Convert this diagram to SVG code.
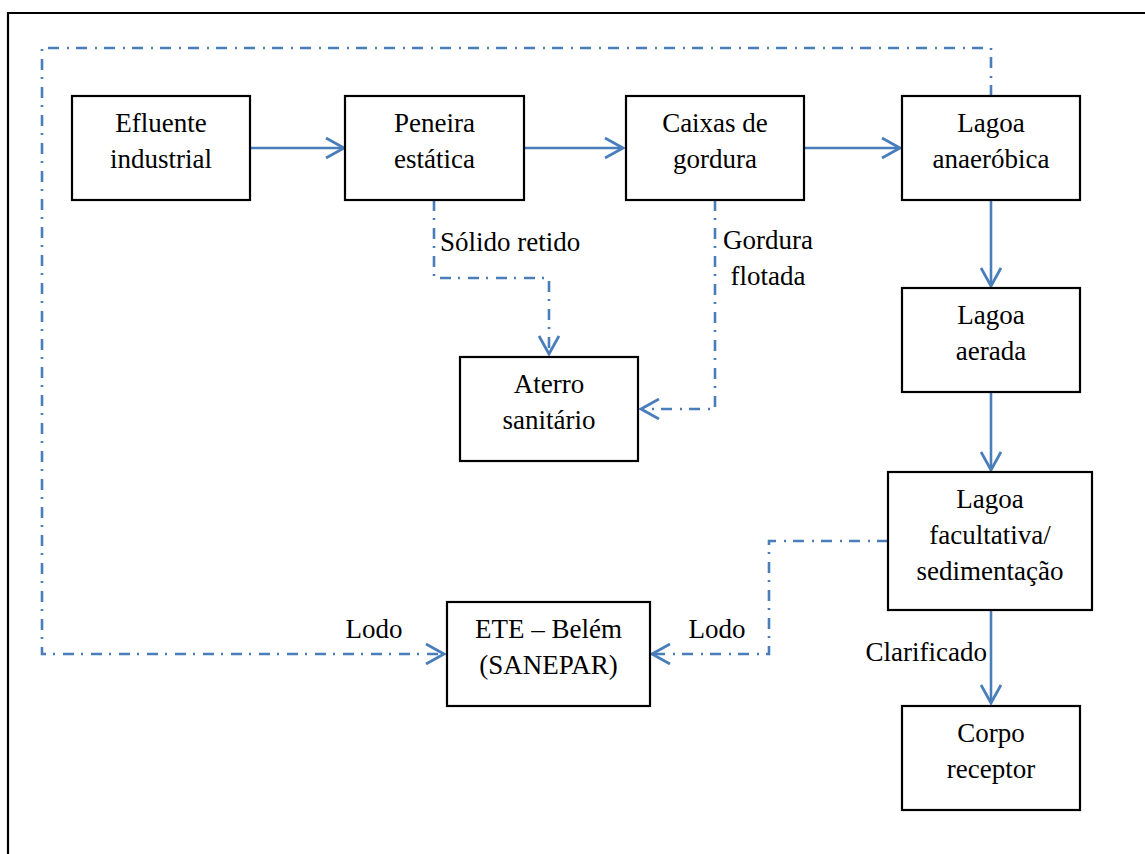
<svg xmlns="http://www.w3.org/2000/svg" width="1145" height="854" viewBox="0 0 1145 854">
<style>
.box{fill:#fff;stroke:#000;stroke-width:2.2}
.t{font-family:"Liberation Serif","Times New Roman",serif;font-size:27px;fill:#000;text-anchor:middle}
.ts{text-anchor:start}
.te{text-anchor:end}
.solid{fill:none;stroke:#4A7EBB;stroke-width:2.6}
.dash{fill:none;stroke:#4A7EBB;stroke-width:2.6;stroke-dasharray:11 7 2 8}
</style>
<defs>
<marker id="arr" viewBox="0 0 22 22" refX="20" refY="11" markerWidth="22" markerHeight="22" markerUnits="userSpaceOnUse" orient="auto">
<path d="M2,1 L20,11 L2,21" fill="none" stroke="#4A7EBB" stroke-width="2.8" stroke-dasharray="none"/>
</marker>
</defs>
<rect width="1145" height="854" fill="#fff"/>
<path d="M8,854 V13 H1145" fill="none" stroke="#000" stroke-width="2.2"/>
<g id="connectors">
<path class="solid" d="M250,148 H344" marker-end="url(#arr)"/>
<path class="solid" d="M524,148 H623" marker-end="url(#arr)"/>
<path class="solid" d="M804,148 H900" marker-end="url(#arr)"/>
<path class="solid" d="M991,200 V286" marker-end="url(#arr)"/>
<path class="solid" d="M991,392 V470" marker-end="url(#arr)"/>
<path class="solid" d="M991,610 V703" marker-end="url(#arr)"/>
<path class="dash" d="M434,200 V278 H549 V354" marker-end="url(#arr)"/>
<path class="dash" d="M715,200 V409 H641" marker-end="url(#arr)"/>
<path class="dash" d="M991,96 V48 H42 V654 H444" marker-end="url(#arr)"/>
<path class="dash" d="M888,541 H769 V654 H652" marker-end="url(#arr)"/>
</g>
<g id="labels">
<text class="t ts" x="440" y="251">Sólido retido</text>
<text class="t" x="768" y="249">Gordura</text>
<text class="t" x="768" y="285">flotada</text>
<text class="t" x="374" y="638">Lodo</text>
<text class="t" x="717" y="638">Lodo</text>
<text class="t te" x="987" y="661">Clarificado</text>
</g>
<g id="efluente">
<rect class="box" x="72" y="96" width="178" height="104"/>
<text class="t" x="161" y="132">Efluente</text>
<text class="t" x="161" y="168">industrial</text>
</g>
<g id="peneira">
<rect class="box" x="345" y="96" width="179" height="104"/>
<text class="t" x="434.5" y="132">Peneira</text>
<text class="t" x="434.5" y="168">estática</text>
</g>
<g id="caixas">
<rect class="box" x="626" y="96" width="178" height="104"/>
<text class="t" x="715" y="132">Caixas de</text>
<text class="t" x="715" y="168">gordura</text>
</g>
<g id="anaerobica">
<rect class="box" x="902" y="96" width="178" height="104"/>
<text class="t" x="991" y="132">Lagoa</text>
<text class="t" x="991" y="168">anaeróbica</text>
</g>
<g id="aerada">
<rect class="box" x="902" y="288" width="178" height="104"/>
<text class="t" x="991" y="324">Lagoa</text>
<text class="t" x="991" y="360">aerada</text>
</g>
<g id="facultativa">
<rect class="box" x="888" y="472" width="204" height="138"/>
<text class="t" x="990" y="508">Lagoa</text>
<text class="t" x="990" y="544">facultativa/</text>
<text class="t" x="990" y="580">sedimentação</text>
</g>
<g id="corpo">
<rect class="box" x="902" y="706" width="178" height="104"/>
<text class="t" x="991" y="742">Corpo</text>
<text class="t" x="991" y="778">receptor</text>
</g>
<g id="aterro">
<rect class="box" x="460" y="357" width="178" height="104"/>
<text class="t" x="549" y="393">Aterro</text>
<text class="t" x="549" y="429">sanitário</text>
</g>
<g id="ete">
<rect class="box" x="447" y="602" width="203" height="104"/>
<text class="t" x="548.5" y="638">ETE – Belém</text>
<text class="t" x="548.5" y="674">(SANEPAR)</text>
</g>
</svg>
